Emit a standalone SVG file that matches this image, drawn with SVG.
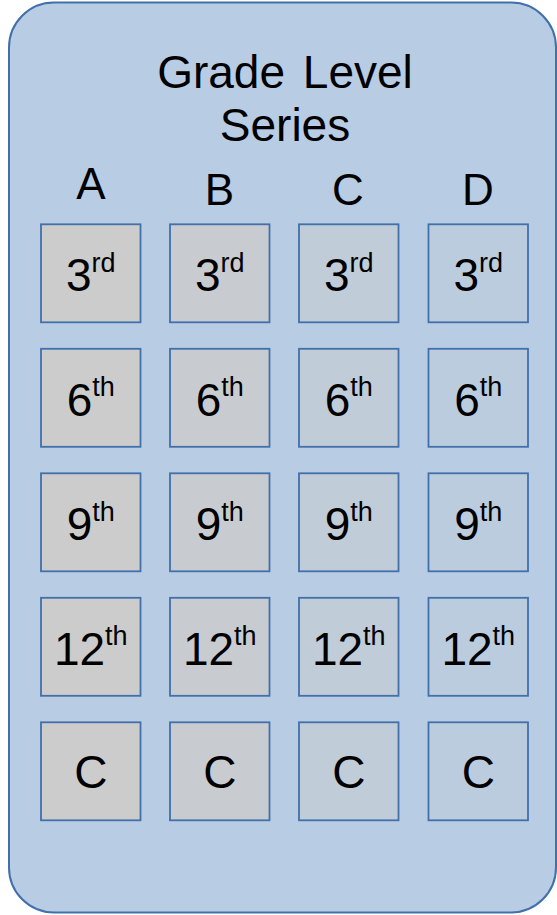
<svg xmlns="http://www.w3.org/2000/svg" width="557" height="915" viewBox="0 0 557 915">
<style>
text{font-family:"Liberation Sans",Arial,sans-serif;fill:#000;text-anchor:middle}
.t{font-size:46px}
.h{font-size:44px}
.b{font-size:46px}
.s{font-size:27px}
.box{stroke:#4170aa;stroke-width:1.8;fill:#cccccc}
.ca{fill-opacity:1}.cb{fill-opacity:0.8}.cc{fill-opacity:0.45}.cd{fill-opacity:0.2}
</style>
<g id="container">
<rect x="9" y="2.5" width="547" height="910" rx="45" ry="45" fill="#b8cce4" stroke="#4170aa" stroke-width="2"/>
<text class="t" x="285" y="88" word-spacing="5">Grade Level</text>
<text class="t" x="285" y="141">Series</text>
</g>
<g id="headers">
<text class="h" x="91" y="199">A</text>
<text class="h" x="219.5" y="204.5">B</text>
<text class="h" x="348" y="205">C</text>
<text class="h" x="478" y="205">D</text>
</g>
<g id="colA">
<g id="a3"><rect class="box ca" x="41" y="224.3" width="99.5" height="98"/><text class="b" x="90.75" y="291">3<tspan class="s" dy="-19.5">rd</tspan></text></g>
<g id="a6"><rect class="box ca" x="41" y="348.8" width="99.5" height="98"/><text class="b" x="90.75" y="415.5">6<tspan class="s" dy="-19.5">th</tspan></text></g>
<g id="a9"><rect class="box ca" x="41" y="473.3" width="99.5" height="98"/><text class="b" x="90.75" y="540">9<tspan class="s" dy="-19.5">th</tspan></text></g>
<g id="a12"><rect class="box ca" x="41" y="597.8" width="99.5" height="98"/><text class="b" x="90.75" y="664.5">12<tspan class="s" dy="-19.5">th</tspan></text></g>
<g id="aC"><rect class="box ca" x="41" y="722.3" width="99.5" height="98"/><text class="b" x="90.75" y="787.5">C</text></g>
</g>
<g id="colB">
<g id="b3"><rect class="box cb" x="170" y="224.3" width="99.5" height="98"/><text class="b" x="219.75" y="291">3<tspan class="s" dy="-19.5">rd</tspan></text></g>
<g id="b6"><rect class="box cb" x="170" y="348.8" width="99.5" height="98"/><text class="b" x="219.75" y="415.5">6<tspan class="s" dy="-19.5">th</tspan></text></g>
<g id="b9"><rect class="box cb" x="170" y="473.3" width="99.5" height="98"/><text class="b" x="219.75" y="540">9<tspan class="s" dy="-19.5">th</tspan></text></g>
<g id="b12"><rect class="box cb" x="170" y="597.8" width="99.5" height="98"/><text class="b" x="219.75" y="664.5">12<tspan class="s" dy="-19.5">th</tspan></text></g>
<g id="bC"><rect class="box cb" x="170" y="722.3" width="99.5" height="98"/><text class="b" x="219.75" y="787.5">C</text></g>
</g>
<g id="colC">
<g id="c3"><rect class="box cc" x="299" y="224.3" width="99.5" height="98"/><text class="b" x="348.75" y="291">3<tspan class="s" dy="-19.5">rd</tspan></text></g>
<g id="c6"><rect class="box cc" x="299" y="348.8" width="99.5" height="98"/><text class="b" x="348.75" y="415.5">6<tspan class="s" dy="-19.5">th</tspan></text></g>
<g id="c9"><rect class="box cc" x="299" y="473.3" width="99.5" height="98"/><text class="b" x="348.75" y="540">9<tspan class="s" dy="-19.5">th</tspan></text></g>
<g id="c12"><rect class="box cc" x="299" y="597.8" width="99.5" height="98"/><text class="b" x="348.75" y="664.5">12<tspan class="s" dy="-19.5">th</tspan></text></g>
<g id="cC"><rect class="box cc" x="299" y="722.3" width="99.5" height="98"/><text class="b" x="348.75" y="787.5">C</text></g>
</g>
<g id="colD">
<g id="d3"><rect class="box cd" x="428.5" y="224.3" width="99.5" height="98"/><text class="b" x="478.25" y="291">3<tspan class="s" dy="-19.5">rd</tspan></text></g>
<g id="d6"><rect class="box cd" x="428.5" y="348.8" width="99.5" height="98"/><text class="b" x="478.25" y="415.5">6<tspan class="s" dy="-19.5">th</tspan></text></g>
<g id="d9"><rect class="box cd" x="428.5" y="473.3" width="99.5" height="98"/><text class="b" x="478.25" y="540">9<tspan class="s" dy="-19.5">th</tspan></text></g>
<g id="d12"><rect class="box cd" x="428.5" y="597.8" width="99.5" height="98"/><text class="b" x="478.25" y="664.5">12<tspan class="s" dy="-19.5">th</tspan></text></g>
<g id="dC"><rect class="box cd" x="428.5" y="722.3" width="99.5" height="98"/><text class="b" x="478.25" y="787.5">C</text></g>
</g>
<g id="connectors"></g>
</svg>
